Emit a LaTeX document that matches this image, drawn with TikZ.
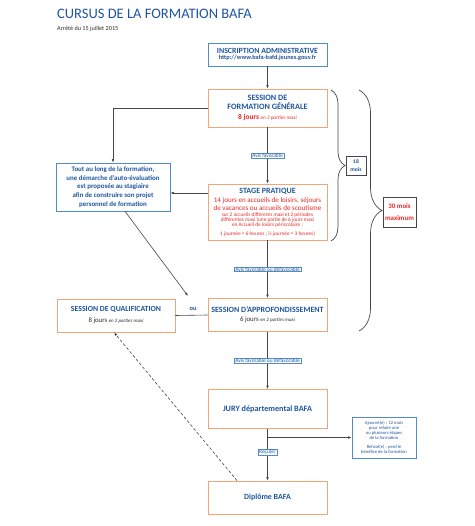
\documentclass[tikz,border=0pt]{standalone}
\usepackage{fontspec}
\setmainfont{Carlito}
\usetikzlibrary{arrows.meta,decorations.pathreplacing,calc}
\lineskiplimit=-20pt
\definecolor{obord}{RGB}{242,165,120}
\definecolor{bbord}{RGB}{80,140,200}
\definecolor{btext}{RGB}{30,85,160}
\definecolor{rtext}{RGB}{232,40,40}
\definecolor{ltext}{RGB}{45,45,45}
\definecolor{gline}{RGB}{70,70,70}
\begin{document}
\begin{tikzpicture}[x=1pt,y=-1pt,
  obox/.style={draw=obord, line width=0.8pt, fill=white, minimum width=119pt, text width=117pt, align=flush center, inner sep=1pt, text=btext},
  bbox/.style={draw=bbord, line width=0.7pt, fill=white, align=flush center, inner sep=1pt, text=btext},
  gbox/.style={draw=gline, line width=0.7pt, fill=white, align=flush center, inner sep=0.5pt},
  lab/.style={draw=bbord, fill=white, line width=0.5pt, font=\fontsize{5.4}{5.4}\selectfont, text=btext, inner xsep=1.2pt, inner ysep=0.6pt},
  arr/.style={draw=gline, line width=0.6pt, -{Latex[length=3.5pt,width=2.6pt]}},
  plain/.style={draw=gline, line width=0.6pt},
  dots/.style={draw=gline, line width=0.6pt, densely dashed, -{Latex[length=3.5pt,width=2.6pt]}},
  brc/.style={draw=gline, line width=0.7pt, decorate}
]
\useasboundingbox (0,0) rectangle (474,526);

% title
\node[anchor=base west, inner sep=0pt, text=btext, font=\fontsize{14.5}{15}\selectfont] (title) at (57,18.3) {CURSUS DE LA FORMATION BAFA};
\node[anchor=base west, inner sep=0pt, text=ltext, font=\fontsize{6.2}{7}\selectfont] (sub) at (57,30.3) {Arrêté du 15 juillet 2015};

% main column
\node[bbox, minimum width=119pt, minimum height=23pt, text width=117pt] (ins) at (267.5,54.5)
  {{\fontsize{7.9}{8}\selectfont\bfseries INSCRIPTION ADMINISTRATIVE\par}
   {\fontsize{6.3}{6.4}\selectfont\bfseries http://www.bafa-bafd.jeunes.gouv.fr\par}};

\node[obox, minimum height=38pt] (sfg) at (267.5,108)
  {{\fontsize{8.2}{9}\selectfont\bfseries SESSION DE\\FORMATION GÉNÉRALE\par}
   {\color{rtext}\fontsize{7.4}{9.3}\selectfont\bfseries 8 jours {\mdseries\fontsize{5.2}{5}\selectfont\itshape en 2 parties maxi}\par}};

\node[obox, minimum height=56pt] (stage) at (267.5,212)
  {{\fontsize{8}{8}\selectfont\bfseries STAGE PRATIQUE\par}\vskip1pt
   {\color{rtext}\fontsize{7.1}{8}\selectfont 14 jours en accueils de loisirs, séjours\\de vacances ou accueils de scoutisme\par}\vskip1.6pt
   {\color{rtext}\fontsize{5.3}{5.1}\selectfont sur 2 accueils différents maxi et 2 périodes\\différentes maxi (une partie de 6 jours maxi\\en Accueil de loisirs périscolaire ;\\[3.3pt]1 journée = 6 heures ; ½ journée = 3 heures)\par}};

\node[obox, minimum height=33pt] (appro) at (267.5,315)
  {{\fontsize{8}{8}\selectfont\bfseries SESSION D’APPROFONDISSEMENT\par}
   {\color{ltext}\fontsize{6.8}{9.3}\selectfont 6 jours {\fontsize{5}{5}\selectfont\itshape en 2 parties maxi}\par}};

\node[obox, minimum height=39pt, font=\fontsize{8.2}{8.5}\selectfont\bfseries] (jury) at (267.5,409) {JURY départemental BAFA};

\node[obox, minimum height=33pt, font=\fontsize{7.9}{8.5}\selectfont\bfseries] (dip) at (267.5,497.5) {Diplôme BAFA};

% left column
\node[bbox, minimum width=114pt, minimum height=48pt, font=\fontsize{6.9}{8.6}\selectfont\bfseries] (auto) at (113,187)
  {Tout au long de la formation,\\une démarche d’auto-évaluation\\est proposée au stagiaire\\afin de construire son projet\\personnel de formation};

\node[obox, minimum width=118pt, text width=116pt, minimum height=33pt] (qual) at (116,315.5)
  {{\fontsize{7.8}{8}\selectfont\bfseries SESSION DE QUALIFICATION\par}
   {\color{ltext}\fontsize{6.8}{11}\selectfont 8 jours {\fontsize{5}{5}\selectfont\itshape en 2 parties maxi}\par}};

\node[text=btext, font=\fontsize{6.5}{7}\selectfont\bfseries, inner sep=0pt] (ou) at (193,309) {ou};

% right side
\node[bbox, minimum width=64pt, minimum height=41pt, font=\fontsize{4.6}{5}\selectfont, text=btext] (ajo) at (384,437.5)
  {Ajourné(e) : 12 mois\\pour refaire une\\ou plusieurs étapes\\de la formation\\[4.5pt]Refusé(e) : perd le\\bénéfice de la formation};

\node[gbox, minimum width=20pt, minimum height=19pt, text=btext, font=\fontsize{5.6}{8.5}\selectfont\bfseries] (m18) at (356,165.5) {18\\mois};
\node[gbox, minimum width=33pt, minimum height=30pt, text=rtext, font=\fontsize{6.9}{12.5}\selectfont\bfseries] (m30) at (399.5,212) {30 mois\\maximum};

% braces
\coordinate (b1a) at (331,90);
\coordinate (b1b) at (331,241);
\coordinate (b2a) at (359,90);
\coordinate (b2b) at (359,331);
\draw[brc, decoration={brace, amplitude=14pt}] (b1a) -- (b1b);
\draw[brc, decoration={brace, amplitude=23pt}] (b2a) -- (b2b);

% connectors
\draw[arr] (ins) -- (sfg);
\draw[arr] (sfg) -- node[lab] {Avis favorable} (stage);
\draw[arr] (stage) -- node[lab] {Avis favorable ou défavorable} (appro);
\draw[arr] (appro) -- node[lab] {Avis favorable ou défavorable} (jury);
\draw[arr] (jury) -- node[lab, pos=0.45] {Reçu(e)} (dip);
\coordinate (jb) at (267.5,437.5);
\draw[arr] (jb) -- (ajo.west);

\draw[arr] (sfg.west) -| (auto.north);
\draw[arr] ([yshift=19pt]stage.west) coordinate (s1) -- (s1 -| auto.east);
\coordinate (outip) at (188,296);
\draw[arr] ([xshift=12pt]auto.south) -- (outip);
\draw[plain] (qual.east) -- (appro.west);
\draw[dots] ([xshift=-30.5pt]dip.north) -- ([xshift=-2pt]qual.south);
\end{tikzpicture}
\end{document}
